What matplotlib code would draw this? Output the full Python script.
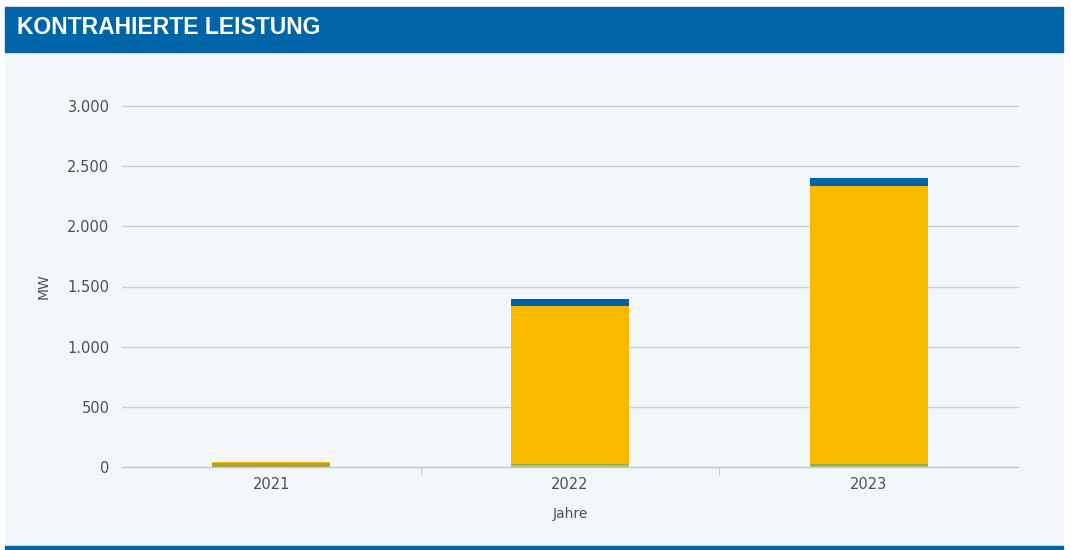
import matplotlib.pyplot as plt
from matplotlib.patches import Rectangle
from matplotlib.ticker import FuncFormatter
import numpy as np

# data
years = ['2021', '2022', '2023']
seg_green = [3, 18, 8]          # light green base
seg_olive = [32, 6, 20]         # olive
seg_yellow = [3, 1316, 2310]    # main yellow
seg_blue = [0, 58, 64]          # blue top

colors = ['#9fcb8c', '#a9a23c', '#fbb900', '#0065a8']

fig = plt.figure(figsize=(10.71, 5.5), dpi=100)
fig.patch.set_facecolor('white')

# panel background, header band and bottom rule
fig.patches.append(Rectangle((5/1071, 5/550), 1058/1071, 493/550,
                             transform=fig.transFigure, color='#f3f6fa', zorder=0))
fig.patches.append(Rectangle((5/1071, 498/550), 1058/1071, 45/550,
                             transform=fig.transFigure, color='#0065a8', zorder=1))
fig.patches.append(Rectangle((5/1071, 1/550), 1058/1071, 3.5/550,
                             transform=fig.transFigure, color='#0065a8', zorder=1))
fig.text(17/1071, 522/550, 'KONTRAHIERTE LEISTUNG', color='white',
         fontsize=16.5, fontweight='bold', family='Liberation Sans',
         va='center', ha='left')

ax = fig.add_axes([122/1071, 83/550, 896/1071, 361/550])
ax.set_facecolor('none')
ax.set_zorder(3)

x = np.arange(len(years))
bottom = np.zeros(len(years))
for vals, c in zip([seg_green, seg_olive, seg_yellow, seg_blue], colors):
    ax.bar(x, vals, bottom=bottom, width=0.395, color=c, zorder=3)
    bottom += np.array(vals)

ax.set_xlim(-0.5, 2.5)
ax.set_ylim(0, 3000)
ax.set_yticks(np.arange(0, 3001, 500))
ax.yaxis.set_major_formatter(FuncFormatter(lambda v, p: f'{int(v):,}'.replace(',', '.')))
ax.grid(axis='y', color='#cdd2da', lw=1, zorder=0)
ax.set_axisbelow(True)
for g in ax.get_ygridlines():
    g.set_clip_on(False)

ax.set_xticks(x)
ax.set_xticklabels(years)
ax.set_xticks([0.5, 1.5], minor=True)
ax.tick_params(axis='x', which='major', length=0, pad=7, labelsize=10.5, labelcolor='#505050')
ax.tick_params(axis='x', which='minor', length=6, color='#c4c9d1')
ax.tick_params(axis='y', length=0, pad=9, labelsize=10.5, labelcolor='#505050')

for s in ['top', 'right', 'left']:
    ax.spines[s].set_visible(False)
ax.spines['bottom'].set_color('#c4c9d1')
ax.spines['bottom'].set_zorder(4)

ax.set_xlabel('Jahre', fontsize=10, color='#505050', labelpad=11)
ax.set_ylabel('MW', fontsize=10, color='#505050', labelpad=12)

fig.savefig('out.png', dpi=100)
